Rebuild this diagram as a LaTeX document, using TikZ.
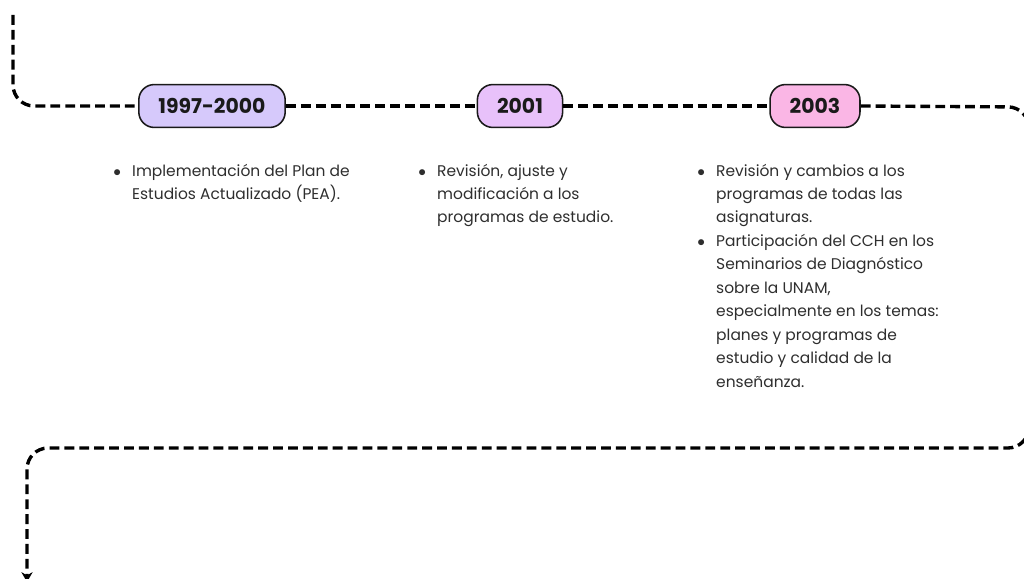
\documentclass[tikz,border=0pt]{standalone}
\usepackage{fontspec}
\setmainfont{Poppins}
\usepackage{tikz}
\usetikzlibrary{arrows.meta}
\definecolor{lila}{HTML}{D6C9FB}
\definecolor{malva}{HTML}{E8C1FA}
\definecolor{rosa}{HTML}{FAB6E5}
\definecolor{tinta}{HTML}{1A1A1A}
\definecolor{gris}{HTML}{2E2E2E}
\tikzset{
        anio/.style={draw=tinta, line width=1.1pt, rounded corners=11pt,
                     minimum height=30.5pt, inner xsep=14pt, text=tinta,
                     font=\fontsize{14.5}{16}\selectfont\bfseries},
        lista/.style={anchor=base west, inner sep=0pt, text=gris,
                      font=\fontsize{11}{16.7}\selectfont},
        ruta/.style={line width=2.4pt, dash pattern=on 7pt off 3.6pt,
                     rounded corners=15pt},
        myarrow/.style={-{Stealth[length=7pt, width=8pt]}},
 }

\begin{document}
\begin{tikzpicture}[x=0.025cm, y=-0.025cm]
    \useasboundingbox (0,0) rectangle (1024,578);

    \node[anio, fill=lila] (a1997) at (212,106) {1997-2000};
    \node[anio, fill=malva] (a2001) at (520,106) {2001};
    \node[anio, fill=rosa] (a2003) at (815,106) {2003};

    \coordinate (inicio) at (13,15);
    \coordinate (esq1) at (1029,107);
    \coordinate (esq2) at (1029,448);
    \coordinate (esq3) at (27,448);
    \coordinate (fin) at (27,582);

    \draw[ruta] (inicio) |- (a1997.west);
    \draw[ruta] (a1997.east) -- (a2001.west);
    \draw[ruta] (a2001.east) -- (a2003.west);
    \draw[ruta, myarrow] (a2003.east) -- (esq1) -- (esq2) -- (esq3) -- (fin);

    \node[lista] (t1997) at (113,176) {\begin{tabular}[t]{@{}l@{\hspace{8pt}}l@{}}
        $\bullet$ & Implementación del Plan de\\
                  & Estudios Actualizado (PEA).
    \end{tabular}};
    \node[lista] (t2001) at (418,176) {\begin{tabular}[t]{@{}l@{\hspace{8pt}}l@{}}
        $\bullet$ & Revisión, ajuste y\\
                  & modificación a los\\
                  & programas de estudio.
    \end{tabular}};
    \node[lista] (t2003) at (697,176) {\begin{tabular}[t]{@{}l@{\hspace{8pt}}l@{}}
        $\bullet$ & Revisión y cambios a los\\
                  & programas de todas las\\
                  & asignaturas.\\
        $\bullet$ & Participación del CCH en los\\
                  & Seminarios de Diagnóstico\\
                  & sobre la UNAM,\\
                  & especialmente en los temas:\\
                  & planes y programas de\\
                  & estudio y calidad de la\\
                  & enseñanza.
    \end{tabular}};
\end{tikzpicture}
\end{document}
